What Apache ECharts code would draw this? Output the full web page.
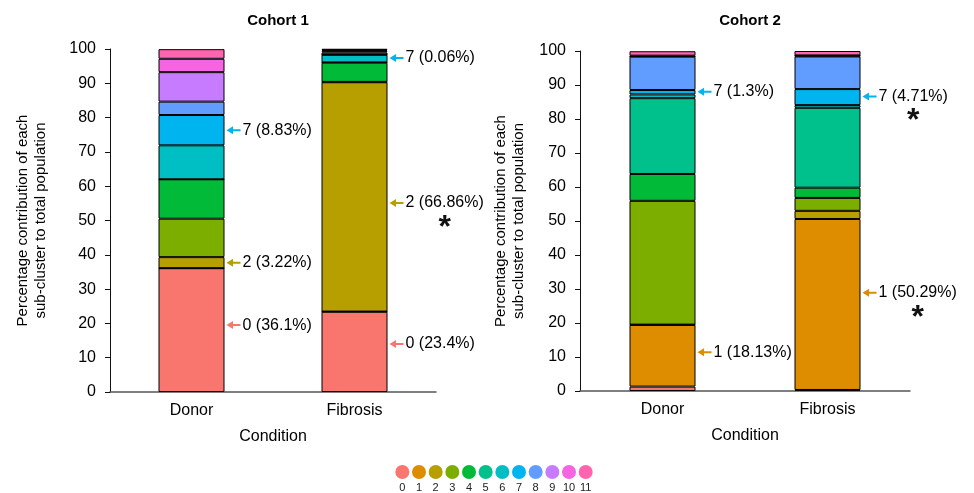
<!DOCTYPE html>
<html>
<head>
<meta charset="utf-8">
<script src="https://cdn.jsdelivr.net/npm/echarts@6/dist/echarts.min.js"></script>
<style>
  html, body { margin: 0; padding: 0; background: #fff; }
  #chart { width: 974px; height: 493px; }
</style>
</head>
<body>
<div id="chart"></div>
<script>
// Conditions and sub-clusters
const conditions = ['Donor', 'Fibrosis'];
const clusters = ['0', '1', '2', '3', '4', '5', '6', '7', '8', '9', '10', '11'];
const clusterColors = ['#F8766D', '#DE8C00', '#B79F00', '#7CAE00', '#00BA38', '#00C08B',
                       '#00BFC4', '#00B4F0', '#619CFF', '#C77CFF', '#F564E3', '#FF64B0'];

// Percentage of each sub-cluster (index = cluster id)
const cohort1Donor    = [36.1, 0, 3.22, 11.2, 11.5, 0, 9.9, 8.83, 3.9, 8.6, 3.9, 2.8];
const cohort1Fibrosis = [23.4, 0.05, 66.86, 0.1, 5.6, 0.1, 2.2, 0.06, 0.6, 0.4, 0.3, 0.4];
const cohort2Donor    = [1.3, 18.13, 0.1, 36.4, 7.9, 22.3, 1.1, 1.3, 9.8, 0.1, 0.2, 1.3];
const cohort2Fibrosis = [0.3, 50.29, 2.4, 3.8, 3.0, 23.5, 0.8, 4.71, 9.6, 0.2, 0.1, 1.3];

// Callouts: condition, cluster, height the arrow points at, significance star
const cohort1NoteConditions = ['Donor', 'Donor', 'Donor', 'Fibrosis', 'Fibrosis', 'Fibrosis'];
const cohort1NoteClusters   = [7, 2, 0, 7, 2, 0];
const cohort1NoteHeights    = [76.3, 37.7, 19.5, 97.4, 55.1, 14.0];
const cohort1NoteStars      = [false, false, false, false, true, false];

const cohort2NoteConditions = ['Donor', 'Donor', 'Fibrosis', 'Fibrosis'];
const cohort2NoteClusters   = [7, 1, 7, 1];
const cohort2NoteHeights    = [88.0, 11.4, 86.6, 28.9];
const cohort2NoteStars      = [false, false, true, true];

const yTicks = { min: 0, max: 100, interval: 10 };
const FONT = "'Liberation Sans', Arial, sans-serif";

const arrowPath = 'path://M0,4 L7,0 L7,3 L15,3 L15,5 L7,5 L7,8 Z';

function barSeries(idx, donor, fibrosis) {
  return clusters.map((c, k) => ({
    type: 'bar',
    name: c,
    xAxisIndex: idx,
    yAxisIndex: idx,
    stack: 'cohort' + idx,
    barWidth: 66,
    data: [donor[k], fibrosis[k]],
    itemStyle: { color: clusterColors[k], borderColor: '#000', borderWidth: 1 }
  }));
}

function noteSeries(idx, conds, cl, heights, stars, donor, fibrosis) {
  const src = { Donor: donor, Fibrosis: fibrosis };
  return {
    type: 'scatter',
    xAxisIndex: idx,
    yAxisIndex: idx,
    symbol: arrowPath,
    symbolSize: [14, 8],
    symbolOffset: [42, 0],
    z: 5,
    silent: true,
    data: conds.map((cond, i) => {
      const k = cl[i];
      const text = clusters[k] + ' (' + src[cond][k] + '%)';
      const lbl = stars[i]
        ? { formatter: '{t|' + text + '}\n{s|*}', verticalAlign: 'top', offset: [0, -10] }
        : { formatter: '{t|' + text + '}' };
      return { value: [cond, heights[i]], itemStyle: { color: clusterColors[k], opacity: 1 }, label: lbl };
    }),
    label: {
      show: true,
      position: 'right',
      distance: 2,
      rich: {
        t: { fontSize: 16, fontFamily: FONT, color: '#000', lineHeight: 20 },
        s: { fontSize: 32, fontFamily: FONT, fontWeight: 'bold', color: '#111', lineHeight: 30, align: 'center' }
      }
    }
  };
}

function xAxisFor(idx) {
  return {
    type: 'category',
    gridIndex: idx,
    data: conditions,
    name: 'Condition',
    nameLocation: 'middle',
    nameGap: 37,
    nameTextStyle: { fontSize: 16, fontFamily: FONT, color: '#000' },
    axisLine: { lineStyle: { color: '#555', width: 1.5 } },
    axisTick: { show: false },
    axisLabel: { fontSize: 16, fontFamily: FONT, color: '#000', margin: 11 }
  };
}

function yAxisFor(idx, gap) {
  return {
    type: 'value',
    gridIndex: idx,
    min: yTicks.min,
    max: yTicks.max,
    interval: yTicks.interval,
    name: 'Percentage contribution of each\nsub-cluster to total population',
    nameLocation: 'middle',
    nameGap: gap,
    nameTextStyle: { fontSize: 15, fontFamily: FONT, color: '#000', lineHeight: 18 },
    axisLine: { show: true, lineStyle: { color: '#111', width: 1 } },
    axisTick: { show: true, length: 5, lineStyle: { color: '#111' } },
    axisLabel: { fontSize: 16, fontFamily: FONT, color: '#000', margin: 14 },
    splitLine: { show: false }
  };
}

const chart = echarts.init(document.getElementById('chart'), null, { renderer: 'canvas' });

chart.setOption({
  animation: false,
  backgroundColor: '#fff',
  title: [
    { text: 'Cohort 1', left: 273, top: 8, textAlign: 'center',
      textStyle: { fontSize: 15, fontWeight: 'bold', fontFamily: FONT, color: '#000' } },
    { text: 'Cohort 2', left: 745, top: 8, textAlign: 'center',
      textStyle: { fontSize: 15, fontWeight: 'bold', fontFamily: FONT, color: '#000' } }
  ],
  grid: [
    { left: 110, right: 538, top: 49, bottom: 101 },
    { left: 580, right: 64, top: 51, bottom: 102 },
    { left: 394, width: 200, top: 465, height: 14 }
  ],
  xAxis: [
    xAxisFor(0),
    xAxisFor(1),
    {
      type: 'category', gridIndex: 2, data: clusters,
      axisLine: { show: false }, axisTick: { show: false },
      axisLabel: { fontSize: 11, fontFamily: FONT, color: '#222', margin: 3 }
    }
  ],
  yAxis: [
    yAxisFor(0, 60),
    yAxisFor(1, 52),
    { type: 'value', gridIndex: 2, min: -1, max: 1, show: false }
  ],
  series: [
    ...barSeries(0, cohort1Donor, cohort1Fibrosis),
    ...barSeries(1, cohort2Donor, cohort2Fibrosis),
    noteSeries(0, cohort1NoteConditions, cohort1NoteClusters, cohort1NoteHeights, cohort1NoteStars,
               cohort1Donor, cohort1Fibrosis),
    noteSeries(1, cohort2NoteConditions, cohort2NoteClusters, cohort2NoteHeights, cohort2NoteStars,
               cohort2Donor, cohort2Fibrosis),
    {
      type: 'scatter',
      xAxisIndex: 2,
      yAxisIndex: 2,
      symbol: 'circle',
      symbolSize: 14,
      silent: true,
      data: clusters.map((c, k) => ({ value: [c, 0], itemStyle: { color: clusterColors[k], opacity: 1 } }))
    }
  ]
});
</script>
</body>
</html>
